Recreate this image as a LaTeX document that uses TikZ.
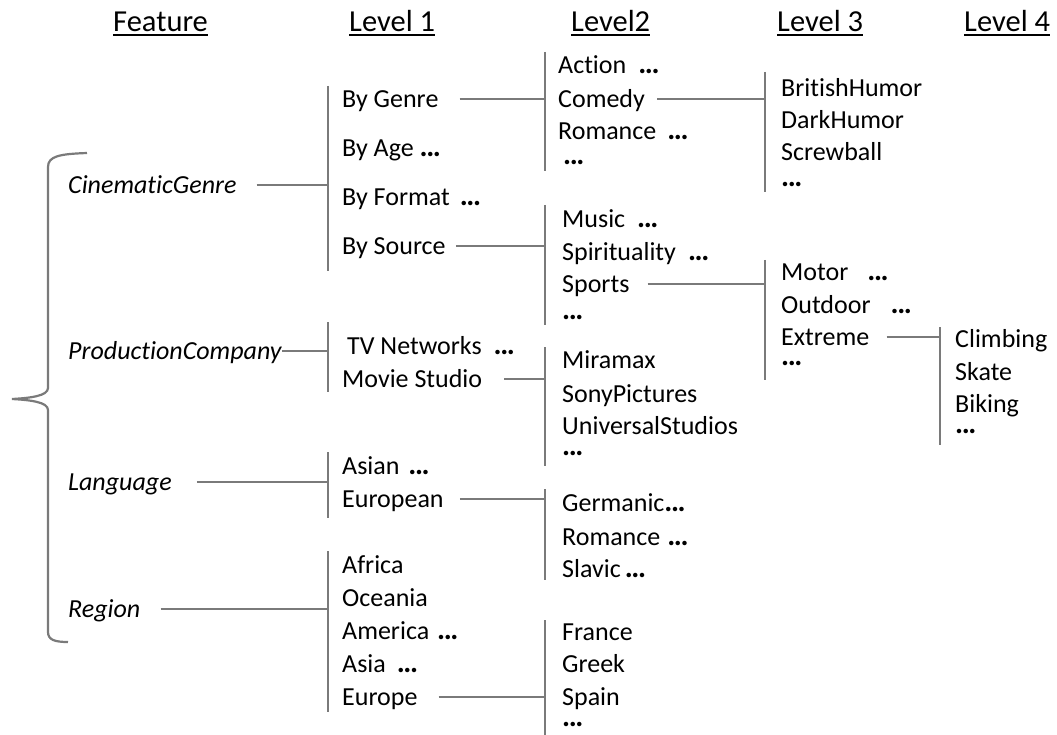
\documentclass[tikz,border=0pt]{standalone}
\usepackage{fontspec}
\setmainfont{Carlito}[Ligatures={NoCommon}]
\newcommand{\dd}{{\fontsize{30}{30}\selectfont\bfseries.\kern-1.4pt.\kern-1.4pt.}}
\newcommand{\myul}[1]{\setbox0\hbox{#1}\rlap{\rule[-4pt]{\wd0}{1.8pt}}\box0}
\begin{document}
\begin{tikzpicture}[x=1pt,y=-1pt,
  lbl/.style={anchor=west,inner sep=0pt,text height=16.7pt,text depth=0pt,font=\fontsize{26}{31}\selectfont,text=black},
  dotsn/.style={anchor=base west,inner sep=0pt,text=black},
  feat/.style={lbl,font=\fontsize{26}{31}\selectfont\itshape},
  hdr/.style={anchor=base west,inner sep=0pt,font=\fontsize{30.5}{36}\selectfont,text=black},
  conn/.style={draw=black!52,line width=2.6pt},
  brace/.style={draw=black!52,line width=2.2pt}]
\useasboundingbox (0,0) rectangle (1057,735);
% headers
\node[hdr] (hF) at (113,32) {\myul{Feature}};
\node[hdr] (h1) at (349,32) {\myul{Level 1}};
\node[hdr] (h2) at (571,32) {\myul{Level2}};
\node[hdr] (h3) at (777,32) {\myul{Level 3}};
\node[hdr] (h4) at (964,32) {\myul{Level 4}};
% brace
\draw[brace] (87,153) .. controls (60,154) and (48,156) .. (48,167) -- (48,388)
  .. controls (48,396) and (30,398) .. (12,399)
  .. controls (30,400) and (48,402) .. (48,410) -- (48,632)
  .. controls (48,640) and (55,642) .. (68,642);
% features
\node[feat] (cg) at (68,185) {CinematicGenre};
\node[feat] (pc) at (68,351) {ProductionCompany};
\node[feat] (lang) at (68,482) {Language};
\node[feat] (reg) at (68,609) {Region};
% level 1
\node[lbl] (bygenre) at (342,99) {By Genre};
\node[lbl] (byage) at (342,148) {By Age\hspace{6pt}\dd};
\node[lbl] (byformat) at (342,197) {By Format\hspace{10pt}\dd};
\node[lbl] (bysource) at (342,246) {By Source};
\node[lbl] (tvnet) at (347,346) {TV Networks\hspace{12pt}\dd};
\node[lbl] (movie) at (342,379) {Movie Studio};
\node[lbl] (asian) at (342,466) {Asian\hspace{9pt}\dd};
\node[lbl] (european) at (342,499) {European};
\node[lbl] (africa) at (342,565) {Africa};
\node[lbl] (oceania) at (342,598) {Oceania};
\node[lbl] (america) at (342,631) {America\hspace{8pt}\dd};
\node[lbl] (asia) at (342,664) {Asia\hspace{11pt}\dd};
\node[lbl] (europe) at (342,697) {Europe};
% level 2
\node[lbl] (action) at (558,65) {Action\hspace{12pt}\dd};
\node[lbl] (comedy) at (558,99) {Comedy};
\node[lbl] (romance) at (558,131) {Romance\hspace{11pt}\dd};
\node[dotsn] (dotsA) at (563,165) {\dd};
\node[lbl] (music) at (562,219) {Music\hspace{12pt}\dd};
\node[lbl] (spirit) at (562,252) {Spirituality\hspace{12pt}\dd};
\node[lbl] (sports) at (562,284) {Sports};
\node[dotsn] (dotsB) at (562,319) {\dd};
\node[lbl] (miramax) at (562,360) {Miramax};
\node[lbl] (sony) at (562,394) {SonyPictures};
\node[lbl] (universal) at (562,426) {UniversalStudios};
\node[dotsn] (dotsC) at (562,455) {\dd};
\node[lbl] (germanic) at (562,503) {Germanic\hspace{0pt}\dd};
\node[lbl] (romance2) at (562,537) {Romance\hspace{7pt}\dd};
\node[lbl] (slavic) at (562,569) {Slavic\hspace{4pt}\dd};
\node[lbl] (france) at (562,632) {France};
\node[lbl] (greek) at (562,664) {Greek};
\node[lbl] (spain) at (562,697) {Spain};
\node[dotsn] (dotsD) at (562,726) {\dd};
% level 3
\node[lbl] (british) at (781,88) {BritishHumor};
\node[lbl] (dark) at (781,120) {DarkHumor};
\node[lbl] (screwball) at (781,152) {Screwball};
\node[dotsn] (dotsE) at (781,187) {\dd};
\node[lbl] (motor) at (781,272) {Motor\hspace{19pt}\dd};
\node[lbl] (outdoor) at (781,305) {Outdoor\hspace{20pt}\dd};
\node[lbl] (extreme) at (781,337) {Extreme};
\node[dotsn] (dotsF) at (781,365) {\dd};
% level 4
\node[lbl] (climbing) at (955,339) {Climbing};
\node[lbl] (skate) at (955,372) {Skate};
\node[lbl] (biking) at (955,404) {Biking};
\node[dotsn] (dotsG) at (955,433) {\dd};
% bar coordinates
\coordinate (b1a) at (328,86);   \coordinate (b1a') at (328,271);
\coordinate (b1b) at (328,322);  \coordinate (b1b') at (328,392);
\coordinate (b1c) at (328,452);  \coordinate (b1c') at (328,518);
\coordinate (b1d) at (328,551);  \coordinate (b1d') at (328,712);
\coordinate (b2a) at (545,52);   \coordinate (b2a') at (545,171);
\coordinate (b2b) at (545,205);  \coordinate (b2b') at (545,325);
\coordinate (b2c) at (545,347);  \coordinate (b2c') at (545,466);
\coordinate (b2d) at (545,489);  \coordinate (b2d') at (545,580);
\coordinate (b2e) at (545,620);  \coordinate (b2e') at (545,735);
\coordinate (b3a) at (765,72);   \coordinate (b3a') at (765,192);
\coordinate (b3b) at (765,260);  \coordinate (b3b') at (765,380);
\coordinate (b4a) at (940,327);  \coordinate (b4a') at (940,445);
% bars
\foreach \b in {b1a,b1b,b1c,b1d,b2a,b2b,b2c,b2d,b2e,b3a,b3b,b4a}
  \draw[conn] (\b) -- (\b');
% connectors
\draw[conn] ([xshift=20pt]cg.east) -- (cg.east -| b1a);
\draw[conn] (pc.east) -- (pc.east -| b1b);
\draw[conn] ([xshift=25pt]lang.east) -- (lang.east -| b1c);
\draw[conn] ([xshift=20pt]reg.east) -- (reg.east -| b1d);
\draw[conn] ([xshift=21pt]bygenre.east) -- (bygenre.east -| b2a);
\draw[conn] ([xshift=10pt]bysource.east) -- (bysource.east -| b2b);
\draw[conn] ([xshift=22pt]movie.east) -- (movie.east -| b2c);
\draw[conn] ([xshift=16pt]european.east) -- (european.east -| b2d);
\draw[conn] ([xshift=21pt]europe.east) -- (europe.east -| b2e);
\draw[conn] ([xshift=12pt]comedy.east) -- (comedy.east -| b3a);
\draw[conn] ([xshift=18pt]sports.east) -- (sports.east -| b3b);
\draw[conn] ([xshift=17pt]extreme.east) -- (extreme.east -| b4a);
\end{tikzpicture}
\end{document}
